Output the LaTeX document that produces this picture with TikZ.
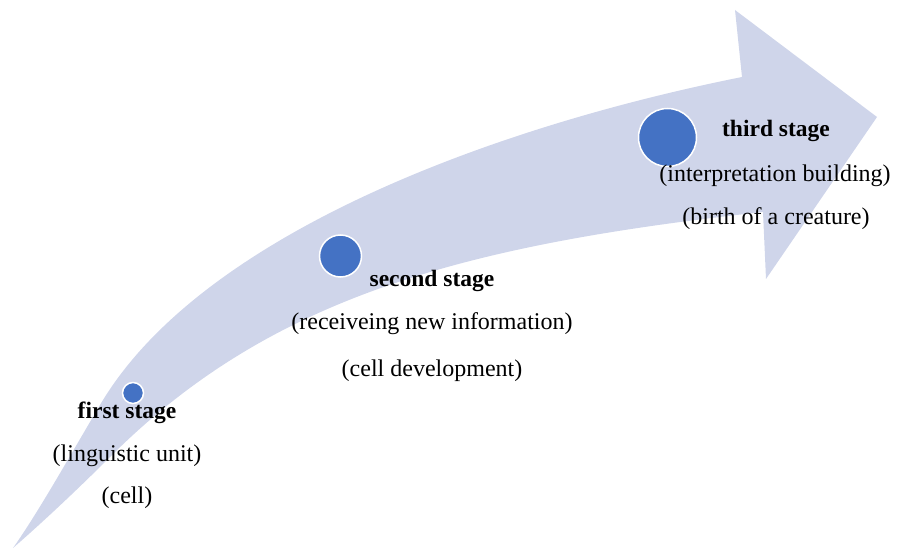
\documentclass[tikz,border=0pt]{standalone}
\usepackage{fontspec}
\setmainfont{Liberation Serif}
\definecolor{bandc}{HTML}{CFD5EA}
\definecolor{dotc}{HTML}{4472C4}
\tikzset{
  dot/.style={circle, fill=dotc, draw=white, line width=1.5pt, inner sep=0pt},
  lbl/.style={anchor=base, inner sep=0pt, font=\fontsize{24}{28}\selectfont},
  title/.style={lbl, font=\fontsize{23.5}{28}\selectfont\bfseries}
}
\begin{document}
\begin{tikzpicture}[x=1pt,y=-1pt]
\useasboundingbox (0,0) rectangle (898,548);
\coordinate (tip) at (13,548);
\coordinate (o1) at (100,405);
\coordinate (neckU) at (742,77);
\coordinate (barbU) at (735,10);
\coordinate (head) at (877,117);
\coordinate (barbL) at (766,279);
\coordinate (neckL) at (763,212);
\coordinate (i1) at (110,457);
\fill[bandc] (tip) .. controls (38,513) and (75,447) .. (o1)
  .. controls (200,235) and (492,127) .. (neckU)
  -- (barbU) -- (head) -- (barbL) -- (neckL)
  .. controls (463,245) and (270,297) .. (i1)
  .. controls (80,487) and (43,522) .. (tip) -- cycle;
\node[dot, minimum size=21pt] (d1) at (133,393) {};
\node[dot, minimum size=42pt] (d2) at (340.5,256) {};
\node[dot, minimum size=58pt] (d3) at (667.5,137.5) {};
\node[title] (t1) at (127,418) {first stage};
\node[lbl] (a1) at (127,461) {(linguistic unit)};
\node[lbl] (b1) at (127,503) {(cell)};
\node[title] (t2) at (432,287) {second stage};
\node[lbl] (a2) at (432,330) {(receiveing new information)};
\node[lbl] (b2) at (432,377) {(cell development)};
\node[title] (t3) at (776,137) {third stage};
\node[lbl] (a3) at (775,182) {(interpretation building)};
\node[lbl] (b3) at (776,225) {(birth of a creature)};
\end{tikzpicture}
\end{document}
